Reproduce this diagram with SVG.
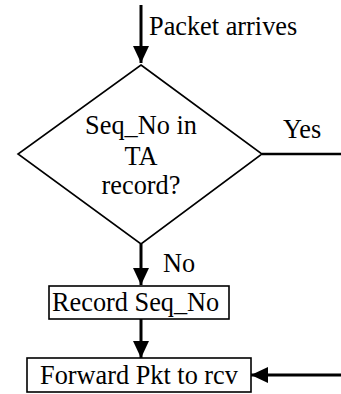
<svg xmlns="http://www.w3.org/2000/svg" width="341" height="394" viewBox="0 0 341 394">
  <style>
    .shape { fill: #fff; stroke: #000; stroke-width: 1.6; }
    .flow { fill: none; stroke: #000; stroke-width: 3; }
    .plain { fill: none; stroke: #000; stroke-width: 2.4; }
    .lbl { font-family: 'Liberation Serif', 'Times New Roman', Tinos, 'DejaVu Serif', serif; font-size: 26.3px; fill: #000; }
    .mid { text-anchor: middle; }
  </style>
  <defs>
    <marker id="head" markerUnits="userSpaceOnUse" markerWidth="18" markerHeight="18" refX="17" refY="8" orient="auto">
      <path d="M0,0 L17,8 L0,16 Z" fill="#000"/>
    </marker>
  </defs>

  <g id="connectors">
    <line class="flow" x1="141" y1="5" x2="141" y2="63" marker-end="url(#head)"/>
    <line class="plain" x1="262" y1="154" x2="341" y2="154"/>
    <line class="flow" x1="141" y1="244" x2="141" y2="285" marker-end="url(#head)"/>
    <line class="flow" x1="141" y1="319" x2="141" y2="358" marker-end="url(#head)"/>
    <line class="flow" x1="341" y1="375" x2="251" y2="375" marker-end="url(#head)"/>
  </g>

  <g id="label-arrives">
    <text class="lbl" x="149" y="35">Packet arrives</text>
  </g>

  <g id="decision">
    <polygon class="shape" points="141,65 262,154 141,244 18,154"/>
    <text class="lbl mid" x="141" y="134">Seq_No in</text>
    <text class="lbl mid" x="141" y="165">TA</text>
    <text class="lbl mid" x="141" y="194">record?</text>
  </g>

  <g id="label-yes">
    <text class="lbl" x="283" y="138">Yes</text>
  </g>

  <g id="label-no">
    <text class="lbl" x="163" y="272">No</text>
  </g>

  <g id="record">
    <rect class="shape" x="49" y="286" width="180" height="33"/>
    <text class="lbl" x="52" y="311">Record Seq_No</text>
  </g>

  <g id="forward">
    <rect class="shape" x="27" y="358" width="224" height="34"/>
    <text class="lbl" x="40" y="384">Forward Pkt to rcv</text>
  </g>
</svg>
